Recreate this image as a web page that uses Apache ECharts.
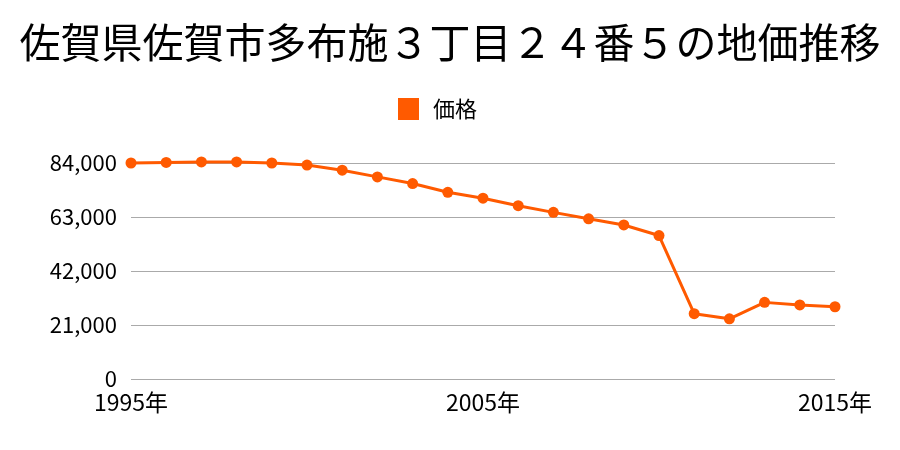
<!DOCTYPE html>
<html>
<head>
<meta charset="utf-8">
<script src="https://cdn.jsdelivr.net/npm/echarts@6/dist/echarts.min.js"></script>
<style>
  html, body { margin: 0; padding: 0; background: #fff; }
  #chart { width: 900px; height: 450px; }
</style>
</head>
<body>
<div id="chart"></div>
<script>
// 年ごとの価格
const years = ['1995年', '1996年', '1997年', '1998年', '1999年', '2000年', '2001年',
  '2002年', '2003年', '2004年', '2005年', '2006年', '2007年', '2008年', '2009年',
  '2010年', '2011年', '2012年', '2013年', '2014年', '2015年'];
const prices = [84000, 84200, 84400, 84400, 84000, 83200, 81200, 78600, 76000, 72600,
  70300, 67400, 64800, 62300, 59900, 55800, 25400, 23400, 29800, 28800, 28100];

const font = '"Noto Sans CJK JP", sans-serif';
const chart = echarts.init(document.getElementById('chart'));

chart.setOption({
  animation: false,
  title: {
    text: '佐賀県佐賀市多布施３丁目２４番５の地価推移',
    left: 'center',
    top: 17,
    textStyle: { fontFamily: font, fontSize: 41, fontWeight: 'normal', color: '#000' },
  },
  legend: {
    top: 93,
    left: 393,
    itemWidth: 21,
    itemHeight: 22,
    icon: 'rect',
    textStyle: { fontFamily: font, fontSize: 22, color: '#000', padding: [0, 0, 0, 9] },
    data: ['価格'],
  },
  grid: { left: 131, right: 65, top: 163, bottom: 71 },
  xAxis: {
    type: 'category',
    data: years,
    boundaryGap: false,
    axisLine: { show: false },
    axisTick: { show: false },
    axisLabel: { interval: 9, color: '#000', fontFamily: font, fontSize: 23, margin: 12 },
  },
  yAxis: {
    type: 'value',
    min: 0,
    max: 84000,
    interval: 21000,
    axisLine: { show: false },
    axisTick: { show: false },
    axisLabel: {
      color: '#000',
      fontFamily: font,
      fontSize: 22,
      margin: 14,
      formatter: v => v.toLocaleString('en-US'),
    },
    splitLine: { lineStyle: { color: '#aaa', width: 1 } },
  },
  series: [
    {
      name: '価格',
      type: 'line',
      data: prices,
      color: '#ff5a00',
      clip: false,
      lineStyle: { width: 3 },
      symbol: 'circle',
      symbolSize: 11,
    },
  ],
});
</script>
</body>
</html>
